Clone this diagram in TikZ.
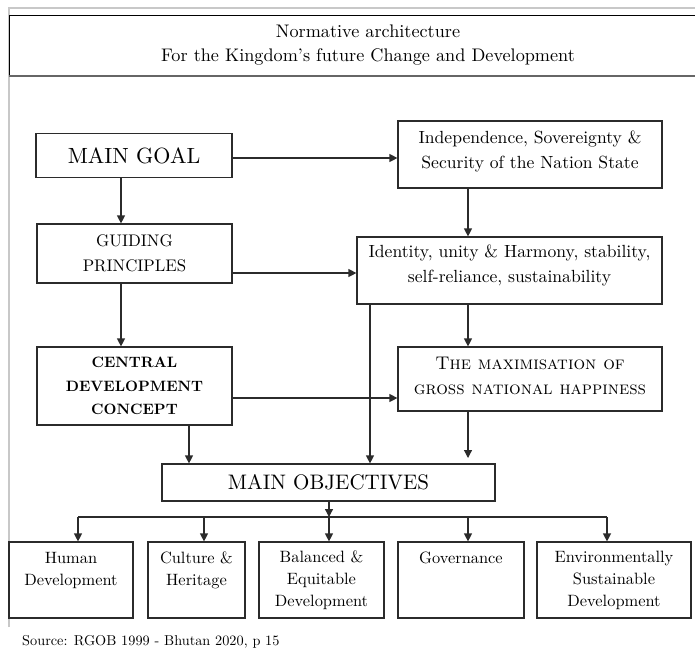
\documentclass[tikz,border=0pt]{standalone}
\usepackage{fontspec}
\setmainfont{lmroman10-regular.otf}[BoldFont=lmroman10-bold.otf, SmallCapsFont=lmromancaps10-regular.otf]
\usetikzlibrary{arrows.meta}
\definecolor{ln}{HTML}{2B2B2B}
\definecolor{frame}{HTML}{C8C8C8}
\tikzset{
  box/.style={draw=ln, line width=1.2pt, rectangle, inner sep=0pt, align=center, text=black},
  arr/.style={draw=ln, line width=1.2pt, -{Triangle[length=8pt,width=8pt]}},
  con/.style={draw=ln, line width=1.2pt},
  mid/.style={font=\fontsize{17.6}{25}\selectfont},
}
\begin{document}
\begin{tikzpicture}[x=1pt,y=-1pt]
\useasboundingbox (0,0) rectangle (695,657);
% page frame
\draw[frame, line width=1.5pt] (9,627) -- (9,8) -- (700,8);
% header
\node[box, draw=black, line width=1.4pt, minimum width=700pt, minimum height=61pt, anchor=north west] (hdr) at (9,15) {};
\draw[draw=black!60, line width=2pt] (9,76) -- (700,76);
\node[align=center, font=\fontsize{18.2}{24}\selectfont] (htxt) at (368,45.5) {Normative architecture\\For the Kingdom's future Change and Development};
% main nodes
\node[box, minimum width=196pt, minimum height=44pt, font=\fontsize{22}{25}\selectfont] (mg) at (134,155.5) {MAIN GOAL};
\node[box, minimum width=264pt, minimum height=67pt, label={[mid, align=center, yshift=3pt]center:Independence, Sovereignty \&\\Security of the Nation State}] (ind) at (530,154.5) {};
\node[box, minimum width=195pt, minimum height=59pt, font=\fontsize{16.8}{25}\selectfont] (gp) at (134.5,253.5) {GUIDING\\PRINCIPLES};
\node[box, minimum width=305pt, minimum height=67pt, label={[mid, align=center, yshift=5pt]center:Identity, unity \& Harmony, stability,\\self-reliance, sustainability}] (id) at (509.5,270.5) {};
\node[box, minimum width=195pt, minimum height=78pt, font=\fontsize{15}{23.5}\selectfont\bfseries] (cdc) at (134.5,386) {CENTRAL\\DEVELOPMENT\\CONCEPT};
\node[box, minimum width=264pt, minimum height=64pt, label={[font=\fontsize{18.3}{25}\selectfont, align=center, yshift=3pt]center:\textsc{The maximisation of}\\\textsc{gross national happiness}}] (max) at (530,379) {};
\node[box, minimum width=333pt, minimum height=37pt, font=\fontsize{21}{24}\selectfont] (mo) at (328.5,482.5) {MAIN OBJECTIVES};
% bottom boxes
\tikzset{bot/.style={box, minimum height=76pt, font=\fontsize{16.4}{22}\selectfont}}
\node[bot, minimum width=124pt] (hd) at (71,580) {Human\\Development\\\mbox{}};
\node[bot, minimum width=97pt] (ch) at (196.5,580) {Culture \&\\Heritage\\\mbox{}};
\node[bot, minimum width=125pt] (be) at (321.5,580) {Balanced \&\\Equitable\\Development};
\node[bot, minimum width=126pt] (gv) at (461,580) {Governance\\\mbox{}\\\mbox{}};
\node[bot, minimum width=154pt] (es) at (614,580) {Environmentally\\Sustainable\\Development};
% connectors
\draw[arr] (mg.east |- 0,158) -- (ind.west |- 0,158);
\draw[arr] (mg.south -| 121,0) -- (gp.north -| 121,0);
\draw[arr] (gp.east |- 0,273) -- (id.west |- 0,273);
\draw[arr] (ind.south -| 468,0) -- (id.north -| 468,0);
\draw[arr] (gp.south -| 121,0) -- (cdc.north -| 121,0);
\draw[arr] (cdc.east |- 0,398) -- (max.west |- 0,398);
\draw[arr] (id.south -| 468,0) -- (max.north -| 468,0);
\draw[arr] (id.south -| 370,0) -- (mo.north -| 370,0);
\draw[arr] (cdc.south -| 189,0) -- (mo.north -| 189,0);
\coordinate (mx) at (468,458);
\draw[arr] (max.south -| mx) -- (mx);
\coordinate (bc) at (329,517);
\coordinate (bl) at (78,517);
\coordinate (br) at (607,517);
\draw[arr] (mo.south -| bc) -- (bc);
\draw[con] (bl) -- (br);
\draw[arr] (bl) -- (bl |- hd.north);
\draw[arr] (204,517) -- (ch.north -| 204,0);
\draw[arr] (bc) -- (bc |- be.north);
\draw[arr] (468,517) -- (gv.north -| 468,0);
\draw[arr] (br) -- (br |- es.north);
% source
\node[anchor=base west, font=\fontsize{14.3}{17}\selectfont, inner sep=0pt] (src) at (22,645) {Source: RGOB 1999 - Bhutan 2020, p 15};
\end{tikzpicture}
\end{document}
